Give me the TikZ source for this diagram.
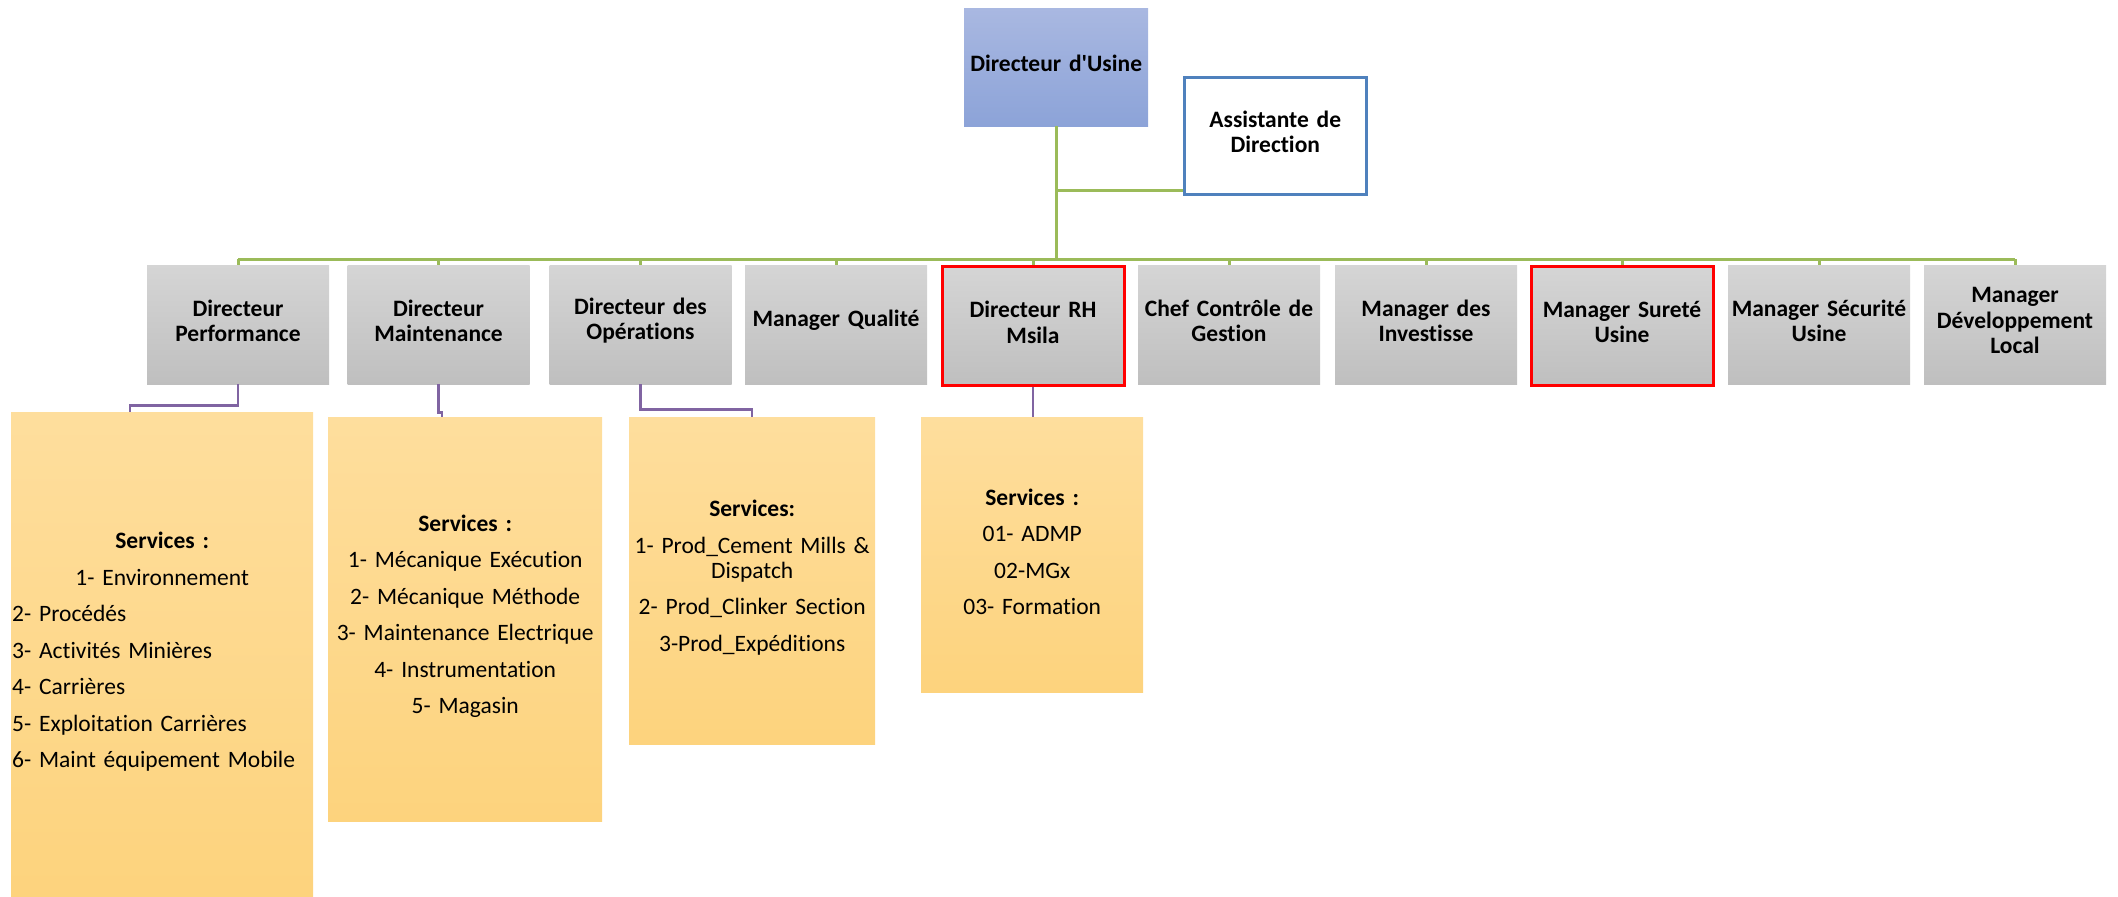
\documentclass[tikz,border=0pt]{standalone}
\usepackage{fontspec}
\setmainfont{Carlito}[Ligatures={NoCommon}]
\usetikzlibrary{calc,positioning}
\definecolor{UsineBlueTop}{RGB}{169,184,225}
\definecolor{UsineBlueBot}{RGB}{140,163,216}
\definecolor{RoleGrayTop}{RGB}{213,213,213}
\definecolor{RoleGrayBot}{RGB}{191,191,191}
\definecolor{ServiceTop}{RGB}{254,222,157}
\definecolor{ServiceBot}{RGB}{253,211,125}
\definecolor{OrgGreen}{RGB}{155,187,89}
\definecolor{LinkPurple}{RGB}{128,100,162}
\definecolor{AsstBlue}{RGB}{79,129,189}
\definecolor{MarkRed}{RGB}{255,0,0}

\begin{document}
\begin{tikzpicture}[x=1pt,y=-1pt,
    boxtext/.style={align=center,inner sep=1pt,font=\bfseries\fontsize{23.5}{25.7}\selectfont,
      execute at end node={\endgraf\kern8pt}},
    rolebox/.style={boxtext,anchor=north,text width=180pt,minimum height=119pt,top color=RoleGrayTop,bottom color=RoleGrayBot},
    svcbox/.style={anchor=north west,inner xsep=1pt,top color=ServiceTop,bottom color=ServiceBot,
      font=\fontsize{23.5}{25}\selectfont,execute at begin node={\setlength{\parskip}{11.5pt}},
      execute at end node={\endgraf\kern6pt}},
    flagged/.style={draw=MarkRed,line width=3pt},
    unflagged/.style={},
    orgline/.style={OrgGreen,line width=3pt},
    svcline/.style={LinkPurple,line width=2.5pt}]
  \useasboundingbox (0,0) rectangle (2118,897);

  \node[boxtext,anchor=north west,text width=182pt,minimum height=118pt,top color=UsineBlueTop,bottom color=UsineBlueBot] (usine) at (964,8) {Directeur d\textquotesingle Usine};
  \node[boxtext,anchor=north west,text width=180pt,minimum height=117pt,fill=white,draw=AsstBlue,line width=2.5pt] (asst) at (1183,76) {Assistante de\\Direction};

  \foreach \i/\x/\role/\extra in {
    1/238/{Directeur\\Performance}/unflagged,
    2/438.5/{Directeur\\Maintenance}/unflagged,
    3/640.5/{Directeur des\\Opérations}/unflagged,
    4/836/{Manager Qualité}/unflagged,
    5/1033/{Directeur RH\\Msila}/flagged,
    6/1229/{Chef Contrôle de\\Gestion}/unflagged,
    7/1426/{Manager des\\Investisse}/unflagged,
    8/1622/{Manager Sureté\\Usine}/flagged,
    9/1819/{Manager Sécurité\\Usine}/unflagged,
    10/2015/{Manager\\Développement\\Local}/unflagged%
  } {
    \node[rolebox,\extra] (r\i) at (\x,265) {\role};
  }

  \node[svcbox,text width=300pt,minimum height=485pt] (s1) at (11,412) {{\centering\textbf{Services :}\par 1- Environnement\par}2- Procédés\par 3- Activités Minières\par 4- Carrières\par 5- Exploitation Carrières\par 6- Maint équipement Mobile};
  \node[svcbox,align=center,text width=272pt,minimum height=404pt] (s2) at (328,417) {\textbf{Services :}\par 1- Mécanique Exécution\par 2- Mécanique Méthode\par 3- Maintenance Electrique\par 4- Instrumentation\par 5- Magasin};
  \node[svcbox,align=center,text width=244pt,minimum height=327pt] (s3) at (629,417) {\textbf{Services:}\par 1- Prod\_Cement Mills \&\\Dispatch\par 2- Prod\_Clinker Section\par 3-Prod\_Expéditions};
  \node[svcbox,align=center,text width=220pt,minimum height=275pt] (s4) at (921,417) {\textbf{Services :}\par 01- ADMP\par 02-MGx\par 03- Formation};

  \coordinate (bus) at (0,259);
  \coordinate (asstlink) at (0,190);
  \draw[orgline] (usine.south) -- (usine.south |- bus);
  \draw[orgline] (usine.south |- asstlink) -- (asst.west |- asstlink);
  \draw[orgline] (r1.north |- bus) -- (r10.north |- bus);
  \foreach \i in {1,...,10}
    \draw[orgline] (r\i.north |- bus) -- (r\i.north);

  \draw[svcline] (r1.south) -- ++(0,21) -| ($(s1.north west)+(119,0)$);
  \draw[svcline] (r2.south) -- ++(0,28) -| ($(s2.north west)+(114,0)$);
  \draw[svcline] (r3.south) -- ++(0,25) -| (s3.north);
  \draw[svcline] (r5.south) -- (r5.south |- s4.north);
\end{tikzpicture}
\end{document}
